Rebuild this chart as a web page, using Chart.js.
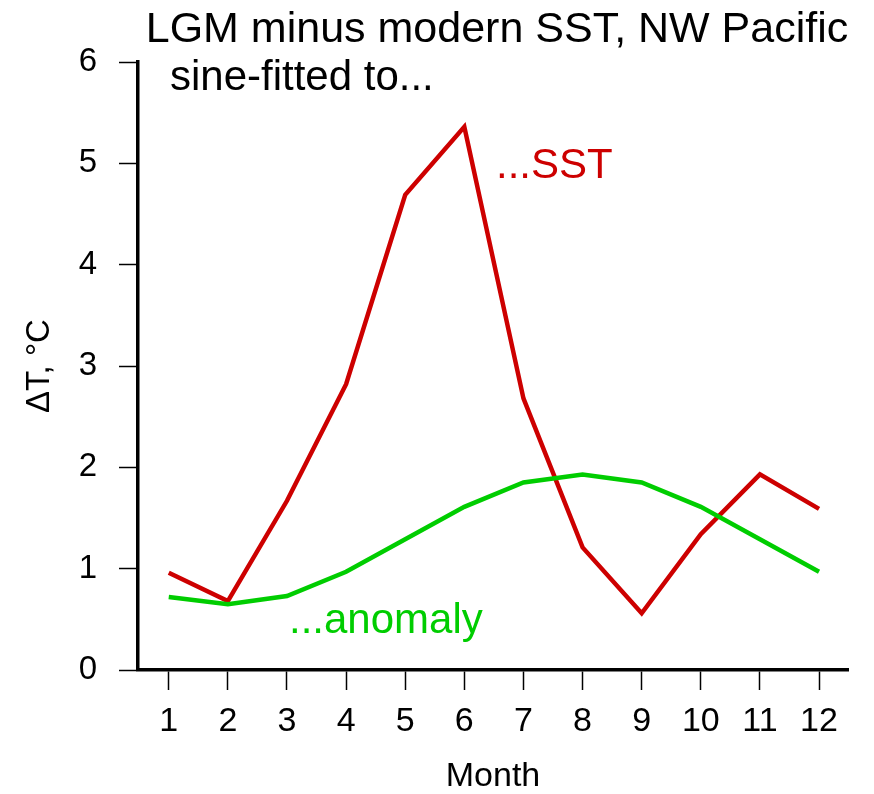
<!DOCTYPE html>
<html>
<head>
<meta charset="utf-8">
<script src="https://cdn.jsdelivr.net/npm/chart.js@4"></script>
<style>
  html, body { margin: 0; padding: 0; background: #fff; }
</style>
</head>
<body>
<canvas id="sstChart" width="874" height="794"></canvas>
<script>
const months = [1, 2, 3, 4, 5, 6, 7, 8, 9, 10, 11, 12];
const sstFit = [0.96, 0.68, 1.67, 2.82, 4.69, 5.36, 2.68, 1.21, 0.56, 1.34, 1.93, 1.59];
const anomalyFit = [0.72, 0.65, 0.73, 0.97, 1.29, 1.61, 1.85, 1.93, 1.85, 1.61, 1.29, 0.97];
const yTicks = [0, 1, 2, 3, 4, 5, 6];

const FONT = "'Liberation Sans', Arial, sans-serif";

// free text written on the plot, as in the original figure
const textLabels = {
    id: "textLabels",
    afterDraw(chart) {
        const ctx = chart.ctx;
        ctx.save();
        ctx.textBaseline = "alphabetic";
        ctx.font = "43px " + FONT;
        ctx.fillStyle = "#000";
        ctx.textAlign = "center";
        ctx.fillText("LGM minus modern SST, NW Pacific", 497, 42);
        ctx.textAlign = "left";
        ctx.font = "42px " + FONT;
        ctx.fillText("sine-fitted to...", 170, 90);
        ctx.fillStyle = "#CD0000";
        ctx.fillText("...SST", 496, 178);
        ctx.fillStyle = "#00CD00";
        ctx.fillText("...anomaly", 289, 633);
        ctx.restore();
    }
};

new Chart(document.getElementById("sstChart"), {
    type: "line",
    data: {
        datasets: [
            {
                label: "SST",
                data: months.map((m, i) => ({ x: m, y: sstFit[i] })),
                borderColor: "#CD0000",
                borderWidth: 4.5,
                pointRadius: 0,
                tension: 0,
                order: 1
            },
            {
                label: "anomaly",
                data: months.map((m, i) => ({ x: m, y: anomalyFit[i] })),
                borderColor: "#00CD00",
                borderWidth: 4.5,
                pointRadius: 0,
                tension: 0,
                order: 0
            }
        ]
    },
    options: {
        responsive: false,
        animation: false,
        layout: { padding: { top: 62, right: 26, left: 0, bottom: 0 } },
        plugins: {
            legend: { display: false },
            tooltip: { enabled: false }
        },
        scales: {
            x: {
                type: "linear",
                min: 0.48,
                max: 12.49,
                afterBuildTicks: (scale) => { scale.ticks = months.map(v => ({ value: v })); },
                afterFit: (scale) => { scale.height = 124; },
                grid: { drawOnChartArea: false, tickLength: 20, tickWidth: 1.5, tickColor: "#000" },
                border: { color: "#000", width: 3.5 },
                ticks: { color: "#000", font: { family: FONT, size: 34 }, padding: 11, maxRotation: 0, autoSkip: false },
                title: {
                    display: true,
                    text: "Month",
                    color: "#000",
                    font: { family: FONT, size: 34, lineHeight: 1 },
                    padding: { top: 0, bottom: 0 }
                }
            },
            y: {
                min: 0,
                max: 6,
                afterBuildTicks: (scale) => { scale.ticks = yTicks.map(v => ({ value: v })); },
                afterFit: (scale) => { scale.width = 138; },
                grid: { drawOnChartArea: false, tickLength: 19, tickWidth: 1.5, tickColor: "#000" },
                border: { color: "#000", width: 3.5 },
                ticks: { color: "#000", font: { family: FONT, size: 33 }, padding: 22 },
                title: {
                    display: true,
                    text: "ΔT, °C",
                    color: "#000",
                    font: { family: FONT, size: 33, lineHeight: 1 },
                    padding: { top: 23, bottom: 0 }
                }
            }
        }
    },
    plugins: [textLabels]
});
</script>
</body>
</html>
